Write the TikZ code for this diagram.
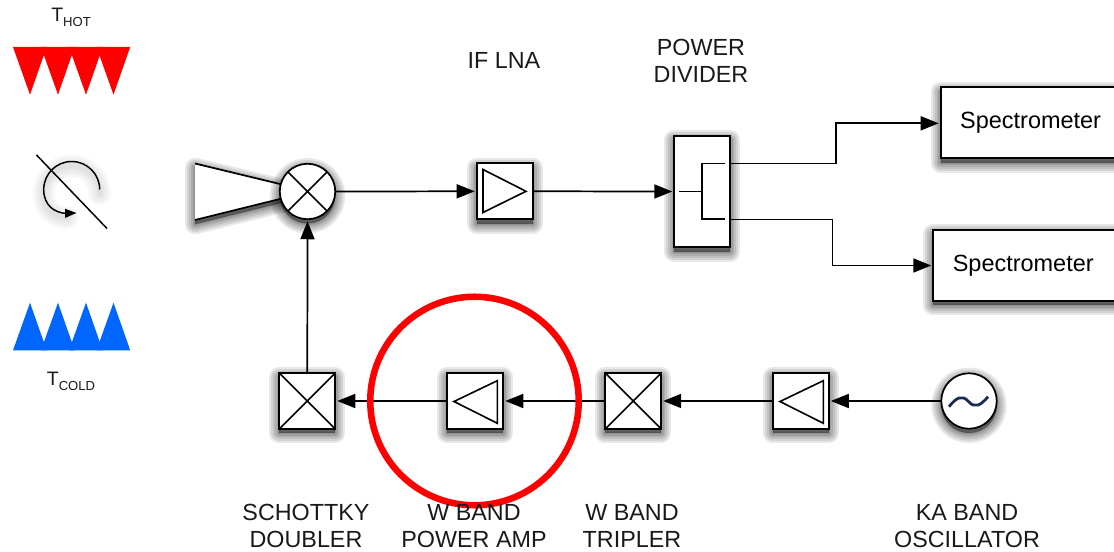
\documentclass[tikz,border=0pt]{standalone}
\usepackage{fontspec}
\setmainfont{Liberation Sans}
\usetikzlibrary{arrows.meta,calc}
\definecolor{hotred}{HTML}{FF0000}
\definecolor{coldblue}{HTML}{0066FF}
\definecolor{tildeblue}{HTML}{1B2A50}
\tikzset{
  shlayer/.style={preaction={draw=black,fill=black,line join=round,opacity=.09,line width=#1*0.75pt,transform canvas={yshift=-3.2pt}}},
  softshadow/.style={shlayer=20,shlayer=16,shlayer=12,shlayer=8,shlayer=5,shlayer=2},
  thinlayer/.style={preaction={draw=black,opacity=.03,line width=#1*0.75pt,line cap=round,transform canvas={yshift=-3.2pt}}},
  thinshadow/.style={thinlayer=22,thinlayer=16,thinlayer=10,thinlayer=5},
  ln/.style={draw=black,line width=1.3pt},
  blockbox/.style={softshadow,ln,fill=white,rectangle,inner sep=0pt,outer sep=0pt,minimum width=56*0.75pt,minimum height=56*0.75pt},
  roundbox/.style={softshadow,ln,fill=white,circle,inner sep=0pt,outer sep=0pt,minimum size=55.5*0.75pt},
  specbox/.style={softshadow,ln,fill=white,rectangle,outer sep=0pt,inner ysep=0pt,inner xsep=19.5*0.75pt,text width=160*0.75pt,align=left,minimum height=71*0.75pt,anchor=west,font=\fontsize{17.6}{20}\selectfont},
  arr/.style={ln,-{Triangle[length=13.5pt,width=10.5pt]},shorten >=1.5pt},
  lab/.style={align=center,inner sep=0pt,font=\fontsize{17.5}{20.25}\selectfont,text=black!90},
  tlab/.style={inner sep=0pt,text=black!90,font=\fontsize{14.6}{17}\selectfont},
  inner/.style={line width=1.2pt,line join=miter},
}
\newcommand{\subtxt}[1]{\raisebox{-0.25em}{\fontsize{9.8}{11}\selectfont #1}}
\begin{document}
\begin{tikzpicture}[x=0.75pt,y=-0.75pt]
\useasboundingbox (0,0) rectangle (1114,552);
\clip (0,0) rectangle (1114,552);
% hot and cold loads
\foreach \a in {13,41,69,96.5}{
  \fill[hotred] (\a,47) -- (\a+33.7,47) -- (\a+17,94.7) -- cycle;
  \fill[coldblue] (\a,350.3) -- (\a+33.7,350.3) -- (\a+17,302.7) -- cycle;
}
\node[tlab] (thot) at (71,17) {T\subtxt{HOT}};
\node[tlab] (tcold) at (71,381) {T\subtxt{COLD}};
% rotating mirror
\draw[ln,line width=1.1pt,thinshadow] (99.7,189.5) arc[start angle=0,end angle=-180,radius=28] .. controls (43.7,205) and (54,213) .. (67,213.5);
\draw[fill=black,draw=none] (65,208.7) -- (76.5,213) -- (65,218) -- cycle;
\draw[ln,line width=1.1pt] (36.5,155) -- (107,228.5);
% horn
\fill[white,softshadow] (195,163.5) -- (282,184.5) -- (282,198.5) -- (195,220) -- cycle;
\draw[ln] (195,163.5) -- (282,184.5);
\draw[ln] (195,220) -- (282,198.5);
% blocks
\node[roundbox] (mixer) at (307.5,191.5) {};
\draw[line width=1.2pt] (mixer.45) -- (mixer.225) (mixer.135) -- (mixer.315);
\node[blockbox] (lna) at (504.7,191.3) {};
\draw[inner] (483,169.5) -- (526,191.3) -- (483,212.5) -- cycle;
\node[blockbox,minimum height=111.6*0.75pt] (div) at (702.3,191.5) {};
\draw[inner] (679.3,191.5) -- (702,191.5);
\draw[inner] (725,163.5) -- (702,163.5) -- (702,219) -- (725,219);
\node[specbox] (spec1) at (940.7,122.8) {Spectrometer};
\node[specbox] (spec2) at (933.3,265.5) {Spectrometer};
\node[blockbox] (doubler) at (307.3,401) {};
\draw[line width=1.2pt] (doubler.north west) -- (doubler.south east) (doubler.north east) -- (doubler.south west);
\node[blockbox] (pa) at (475.3,401) {};
\draw[inner] (454,401.5) -- (497.3,380.7) -- (497.3,423.3) -- cycle;
\node[blockbox] (tripler) at (633.2,401) {};
\draw[line width=1.2pt] (tripler.north west) -- (tripler.south east) (tripler.north east) -- (tripler.south west);
\node[blockbox] (kaamp) at (800.8,401) {};
\draw[inner] (780,401.5) -- (823.3,380.7) -- (823.3,423.3) -- cycle;
\node[roundbox] (osc) at (969,401) {};
\draw[tildeblue,line width=2.1pt] (949,406.7) .. controls (956,398) and (962,394) .. (968.5,401.5) .. controls (975,409) and (981,405) .. (988,396.7);
% connectors
\draw[arr] (mixer.east) -- (lna.west);
\draw[arr] (lna.east) -- (div.west);
\draw[arr] (div.east |- 0,163.5) -| (836,123.3) -- (spec1.west |- 0,123.3);
\draw[arr] (div.east |- 0,219.5) -| (832.5,265.5) -- (spec2.west);
\draw[arr] (doubler.north) -- (mixer.south);
\draw[arr] (osc.west) -- (kaamp.east);
\draw[arr] (kaamp.west) -- (tripler.east);
\draw[arr] (tripler.west) -- (pa.east);
\draw[arr] (pa.west) -- (doubler.east);
% highlight
\node[draw=hotred,line width=4.9pt,circle,inner sep=0pt,minimum size=208.5*0.75pt] (ring) at (474.5,401) {};
% labels
\node[lab] (l1) at (504,60) {IF LNA};
\node[lab] (l2) at (701,60.5) {POWER\\DIVIDER};
\node[lab] (l3) at (306,526) {SCHOTTKY\\DOUBLER};
\node[lab] (l4) at (474,526) {W BAND\\POWER AMP};
\node[lab] (l5) at (632,526) {W BAND\\TRIPLER};
\node[lab] (l6) at (967,526) {KA BAND\\OSCILLATOR};
\end{tikzpicture}
\end{document}
